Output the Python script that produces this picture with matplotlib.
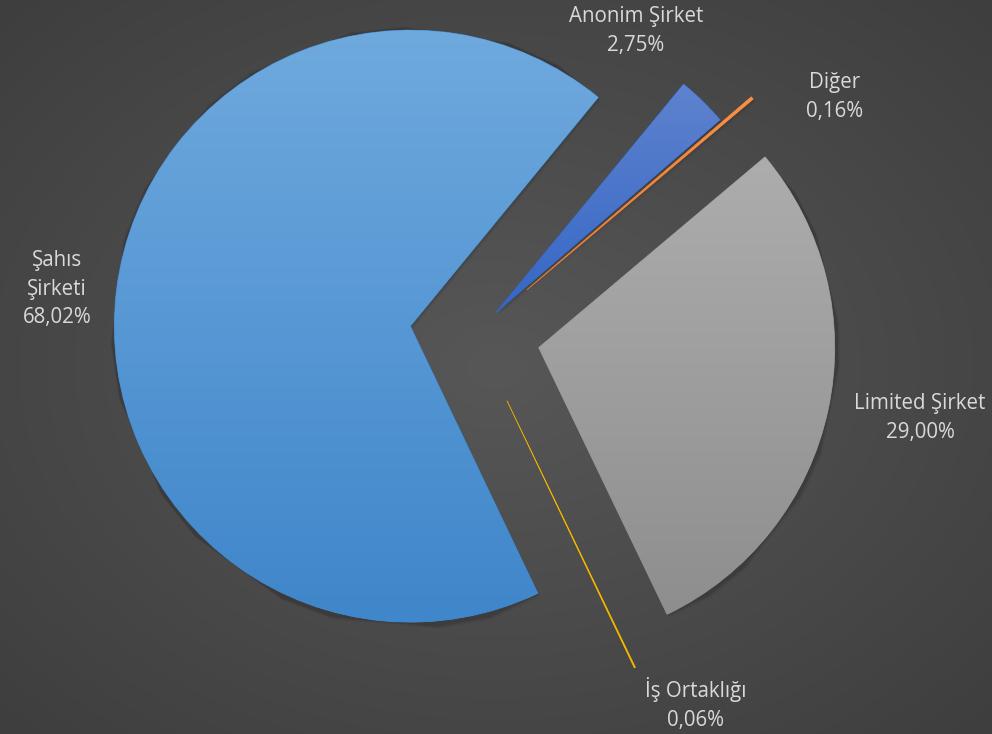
import numpy as np
import matplotlib.pyplot as plt
from matplotlib.colors import LinearSegmentedColormap

# data (Excel order, clockwise from the first slice)
labels = ["Anonim Şirket", "Diğer", "Limited Şirket", "İş Ortaklığı", "Şahıs\nŞirketi"]
values = [2.75, 0.16, 29.00, 0.06, 68.02]
pct_text = ["2,75%", "0,16%", "29,00%", "0,06%", "68,02%"]
explode = [0.10, 0.23, 0.22, 0.25, 0.22]

# gradient (top, bottom) for each slice
grad = [("#5E82CE", "#3567C6"), ("#F4924A", "#EE7D31"), ("#ADADAD", "#8E8E8E"),
        ("#FFC000", "#F0B400"), ("#6FA9DE", "#3F86CA")]

# label centres in pixel coords (x, y from top)
label_pos = [(636, 31), (835, 97), (920, 418), (696, 704), (57, 289)]

W, H = 992, 734
cx, cy, R = 475, H - 334, 296


def main():
    fig = plt.figure(figsize=(W / 100, H / 100), dpi=100)
    ax = fig.add_axes([0, 0, 1, 1])

    # radial background
    yy, xx = np.mgrid[0:H, 0:W]
    d = np.sqrt(((xx - W / 2) / (W / 2)) ** 2 + ((yy - H / 2) / (H / 2)) ** 2) / np.sqrt(2)
    bg_cmap = LinearSegmentedColormap.from_list("bg", ["#575757", "#3E3E3E"])
    ax.imshow(d, cmap=bg_cmap, extent=(0, W, 0, H), origin="lower", zorder=0,
              vmin=0, vmax=1, aspect="auto")

    # matplotlib adds explode in data units, so scale by radius
    wedges, _ = ax.pie(values, explode=[e * R for e in explode], startangle=90 - 39.4,
                       counterclock=False, center=(cx, cy), radius=R, frame=True,
                       wedgeprops=dict(linewidth=0))
    ax.set_xlim(0, W)
    ax.set_ylim(0, H)
    ax.set_aspect("equal")
    ax.axis("off")

    for w, (c1, c2) in zip(wedges, grad):
        # soft shadow
        for k, a in [(4, 0.04), (2.5, 0.06), (1.2, 0.08)]:
            sh = plt.Polygon(w.get_path().vertices + [k * 0.6, -k * 0.8], closed=True,
                             facecolor="black", edgecolor="none", alpha=a, zorder=1)
            ax.add_patch(sh)
        w.set_zorder(2)
        w.set_facecolor(c2)
        w.set_edgecolor(c2)
        w.set_linewidth(0.6)
        ext = w.get_path().get_extents()
        cmap = LinearSegmentedColormap.from_list("g", [c2, c1])
        im = ax.imshow(np.linspace(0, 1, 256).reshape(-1, 1), cmap=cmap, origin="lower",
                       extent=(ext.x0, ext.x1, ext.y0, ext.y1), aspect="auto", zorder=3,
                       interpolation="bilinear")
        im.set_clip_path(w)

    ax.set_xlim(0, W)
    ax.set_ylim(0, H)

    for lb, pt, (x, y) in zip(labels, pct_text, label_pos):
        ax.text(x, H - y, lb + "\n" + pt, ha="center", va="center", color="#D9D9D9",
                fontsize=14.8, family="Open Sans", linespacing=1.45, zorder=5)

    fig.savefig("out.png", dpi=100)


if __name__ == '__main__':
    main()
